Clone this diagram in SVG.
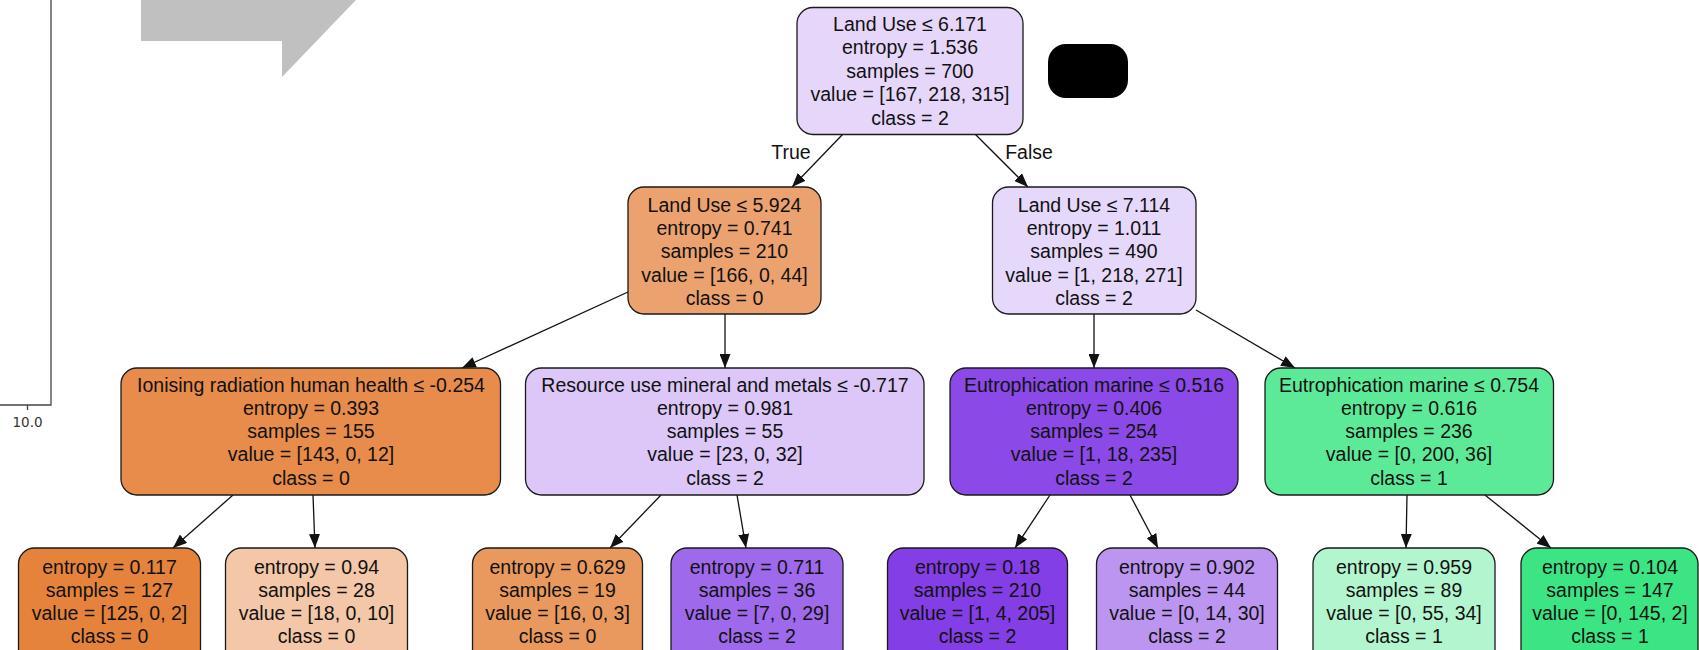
<svg xmlns="http://www.w3.org/2000/svg" width="1699" height="650" viewBox="0 0 1699 650">
<style>
.n{stroke:#1a1a1a;stroke-width:1.3}
.t{font-family:"Liberation Sans",Arial,sans-serif;font-size:19.5px;fill:#111;text-anchor:middle}
.e{stroke:#111;stroke-width:1.3;fill:none}
.ax{stroke:#444;stroke-width:1.3;fill:none}
</style>
<defs>
<marker id="ah" markerUnits="userSpaceOnUse" markerWidth="15" markerHeight="11" refX="14" refY="5.5" orient="auto">
<path d="M0,0 L14,5.5 L0,11 z" fill="#111"/>
</marker>
</defs>
<rect width="1699" height="650" fill="#fff"/>
<g id="axis">
<path class="ax" d="M51,0 V405 H0"/>
<path class="ax" d="M27.5,405 V410"/>
<text x="27.5" y="427" style="font-family:'DejaVu Sans',sans-serif;font-size:13.5px;fill:#333;text-anchor:middle">10.0</text>
</g>
<polygon id="gray-arrow" points="141,0 356,0 282,77 282,41 141,41" fill="#c0c0c0"/>
<rect id="black-box" x="1048" y="44" width="80" height="54" rx="18" fill="#000"/>
<g id="connectors">
<line class="e" x1="843" y1="134" x2="792" y2="187" marker-end="url(#ah)"/>
<line class="e" x1="975" y1="134" x2="1028" y2="187" marker-end="url(#ah)"/>
<line class="e" x1="628" y1="292" x2="462" y2="368" marker-end="url(#ah)"/>
<line class="e" x1="725" y1="314" x2="725" y2="368" marker-end="url(#ah)"/>
<line class="e" x1="1094" y1="314" x2="1094" y2="368" marker-end="url(#ah)"/>
<line class="e" x1="1196" y1="310" x2="1295" y2="368" marker-end="url(#ah)"/>
<line class="e" x1="233" y1="495" x2="173" y2="548" marker-end="url(#ah)"/>
<line class="e" x1="313" y1="495" x2="315" y2="548" marker-end="url(#ah)"/>
<line class="e" x1="661" y1="495" x2="610" y2="548" marker-end="url(#ah)"/>
<line class="e" x1="737" y1="495" x2="746" y2="548" marker-end="url(#ah)"/>
<line class="e" x1="1050" y1="495" x2="1015" y2="548" marker-end="url(#ah)"/>
<line class="e" x1="1130" y1="495" x2="1158" y2="548" marker-end="url(#ah)"/>
<line class="e" x1="1407" y1="495" x2="1406" y2="548" marker-end="url(#ah)"/>
<line class="e" x1="1485" y1="495" x2="1551" y2="548" marker-end="url(#ah)"/>
<text class="t" x="791" y="159">True</text>
<text class="t" x="1029" y="159">False</text>
</g>
<g id="root">
<rect class="n" x="797" y="7.5" width="226" height="127" rx="16" fill="#e6d7fa"/>
<text class="t" x="910" y="31">Land Use ≤ 6.171</text>
<text class="t" x="910" y="54.4">entropy = 1.536</text>
<text class="t" x="910" y="77.8">samples = 700</text>
<text class="t" x="910" y="101.2">value = [167, 218, 315]</text>
<text class="t" x="910" y="124.6">class = 2</text>
</g>
<g id="n1">
<rect class="n" x="628" y="187" width="193" height="127" rx="16" fill="#eca26e"/>
<text class="t" x="724.5" y="211.5">Land Use ≤ 5.924</text>
<text class="t" x="724.5" y="234.9">entropy = 0.741</text>
<text class="t" x="724.5" y="258.3">samples = 210</text>
<text class="t" x="724.5" y="281.7">value = [166, 0, 44]</text>
<text class="t" x="724.5" y="305.1">class = 0</text>
</g>
<g id="n2">
<rect class="n" x="992.5" y="187" width="203.5" height="127" rx="16" fill="#e6d8fa"/>
<text class="t" x="1094" y="211.5">Land Use ≤ 7.114</text>
<text class="t" x="1094" y="234.9">entropy = 1.011</text>
<text class="t" x="1094" y="258.3">samples = 490</text>
<text class="t" x="1094" y="281.7">value = [1, 218, 271]</text>
<text class="t" x="1094" y="305.1">class = 2</text>
</g>
<g id="n3">
<rect class="n" x="121" y="368" width="379.5" height="127" rx="16" fill="#e78c4a"/>
<text class="t" x="311" y="391.5">Ionising radiation human health ≤ -0.254</text>
<text class="t" x="311" y="414.8">entropy = 0.393</text>
<text class="t" x="311" y="438.1">samples = 155</text>
<text class="t" x="311" y="461.4">value = [143, 0, 12]</text>
<text class="t" x="311" y="484.7">class = 0</text>
</g>
<g id="n4">
<rect class="n" x="525.5" y="368" width="398.5" height="127" rx="16" fill="#dcc7f8"/>
<text class="t" x="725" y="391.5">Resource use mineral and metals ≤ -0.717</text>
<text class="t" x="725" y="414.8">entropy = 0.981</text>
<text class="t" x="725" y="438.1">samples = 55</text>
<text class="t" x="725" y="461.4">value = [23, 0, 32]</text>
<text class="t" x="725" y="484.7">class = 2</text>
</g>
<g id="n5">
<rect class="n" x="950" y="368" width="288" height="127" rx="16" fill="#8b49e7"/>
<text class="t" x="1094" y="391.5">Eutrophication marine ≤ 0.516</text>
<text class="t" x="1094" y="414.8">entropy = 0.406</text>
<text class="t" x="1094" y="438.1">samples = 254</text>
<text class="t" x="1094" y="461.4">value = [1, 18, 235]</text>
<text class="t" x="1094" y="484.7">class = 2</text>
</g>
<g id="n6">
<rect class="n" x="1265" y="368" width="288.5" height="127" rx="16" fill="#5dea98"/>
<text class="t" x="1409" y="391.5">Eutrophication marine ≤ 0.754</text>
<text class="t" x="1409" y="414.8">entropy = 0.616</text>
<text class="t" x="1409" y="438.1">samples = 236</text>
<text class="t" x="1409" y="461.4">value = [0, 200, 36]</text>
<text class="t" x="1409" y="484.7">class = 1</text>
</g>
<g id="leaf1">
<rect class="n" x="18.5" y="548" width="182" height="127" rx="16" fill="#e5833c"/>
<text class="t" x="109.5" y="573.5">entropy = 0.117</text>
<text class="t" x="109.5" y="596.8">samples = 127</text>
<text class="t" x="109.5" y="620.1">value = [125, 0, 2]</text>
<text class="t" x="109.5" y="643.4">class = 0</text>
</g>
<g id="leaf2">
<rect class="n" x="225.5" y="548" width="182" height="127" rx="16" fill="#f3c7a7"/>
<text class="t" x="316.5" y="573.5">entropy = 0.94</text>
<text class="t" x="316.5" y="596.8">samples = 28</text>
<text class="t" x="316.5" y="620.1">value = [18, 0, 10]</text>
<text class="t" x="316.5" y="643.4">class = 0</text>
</g>
<g id="leaf3">
<rect class="n" x="472.5" y="548" width="170" height="127" rx="16" fill="#ea995e"/>
<text class="t" x="557.5" y="573.5">entropy = 0.629</text>
<text class="t" x="557.5" y="596.8">samples = 19</text>
<text class="t" x="557.5" y="620.1">value = [16, 0, 3]</text>
<text class="t" x="557.5" y="643.4">class = 0</text>
</g>
<g id="leaf4">
<rect class="n" x="671" y="548" width="172" height="127" rx="16" fill="#9f69eb"/>
<text class="t" x="757" y="573.5">entropy = 0.711</text>
<text class="t" x="757" y="596.8">samples = 36</text>
<text class="t" x="757" y="620.1">value = [7, 0, 29]</text>
<text class="t" x="757" y="643.4">class = 2</text>
</g>
<g id="leaf5">
<rect class="n" x="887.5" y="548" width="180" height="127" rx="16" fill="#843ee6"/>
<text class="t" x="977.5" y="573.5">entropy = 0.18</text>
<text class="t" x="977.5" y="596.8">samples = 210</text>
<text class="t" x="977.5" y="620.1">value = [1, 4, 205]</text>
<text class="t" x="977.5" y="643.4">class = 2</text>
</g>
<g id="leaf6">
<rect class="n" x="1096.5" y="548" width="181" height="127" rx="16" fill="#bc95f1"/>
<text class="t" x="1187" y="573.5">entropy = 0.902</text>
<text class="t" x="1187" y="596.8">samples = 44</text>
<text class="t" x="1187" y="620.1">value = [0, 14, 30]</text>
<text class="t" x="1187" y="643.4">class = 2</text>
</g>
<g id="leaf7">
<rect class="n" x="1313" y="548" width="182" height="127" rx="16" fill="#b3f5cf"/>
<text class="t" x="1404" y="573.5">entropy = 0.959</text>
<text class="t" x="1404" y="596.8">samples = 89</text>
<text class="t" x="1404" y="620.1">value = [0, 55, 34]</text>
<text class="t" x="1404" y="643.4">class = 1</text>
</g>
<g id="leaf8">
<rect class="n" x="1521" y="548" width="177" height="127" rx="16" fill="#3ce583"/>
<text class="t" x="1610" y="573.5">entropy = 0.104</text>
<text class="t" x="1610" y="596.8">samples = 147</text>
<text class="t" x="1610" y="620.1">value = [0, 145, 2]</text>
<text class="t" x="1610" y="643.4">class = 1</text>
</g>
</svg>
